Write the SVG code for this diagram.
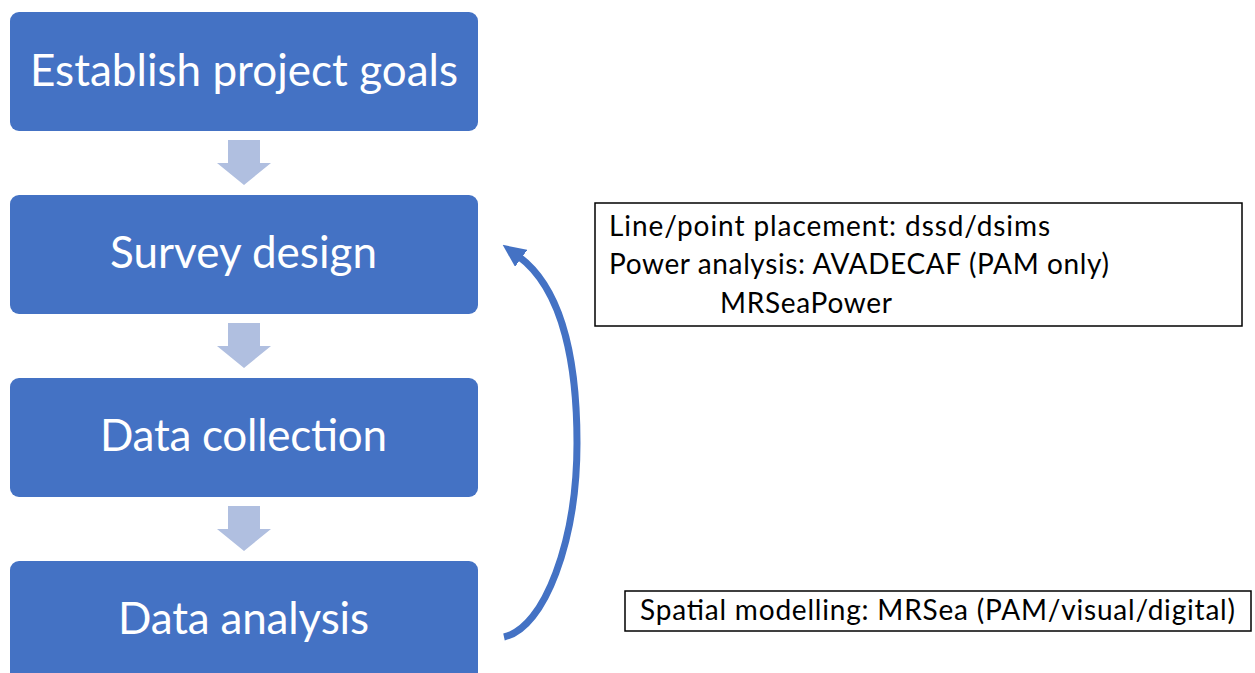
<svg xmlns="http://www.w3.org/2000/svg" width="1255" height="673" viewBox="0 0 1255 673">
  <style>
    .step { fill: #4472C4; }
    .step-label { fill: #ffffff; font-family: Lato, "Open Sans", sans-serif; font-size: 44px; }
    .down { fill: #B0BFE0; }
    .note { fill: #ffffff; stroke: #000000; stroke-width: 1.5; }
    .note-text { fill: #000000; font-family: Lato, "Open Sans", sans-serif; font-size: 28px; }
    .loop { fill: none; stroke: #4472C4; stroke-width: 7; }
  </style>
  <defs>
    <marker id="loopHead" viewBox="0 0 23 21" refX="4" refY="10.5" markerWidth="23" markerHeight="21" orient="auto" markerUnits="userSpaceOnUse">
      <path d="M0,0 L23,10.5 L0,21 z" fill="#4472C4"/>
    </marker>
  </defs>

  <rect width="1255" height="673" fill="#ffffff"/>

  <g id="step-goals">
    <rect class="step" x="10" y="12" width="468" height="119" rx="9"/>
    <text class="step-label" x="30" y="86" textLength="428">Establish project goals</text>
  </g>
  <g id="step-design">
    <rect class="step" x="10" y="195" width="468" height="119" rx="9"/>
    <text class="step-label" x="110" y="268" textLength="267">Survey design</text>
  </g>
  <g id="step-collection">
    <rect class="step" x="10" y="378" width="468" height="119" rx="9"/>
    <text class="step-label" x="100" y="451" textLength="287">Data collection</text>
  </g>
  <g id="step-analysis">
    <rect class="step" x="10" y="561" width="468" height="130" rx="9"/>
    <text class="step-label" x="118" y="634" textLength="251">Data analysis</text>
  </g>

  <g id="note-design">
    <rect class="note" x="595" y="203" width="647" height="123"/>
    <text class="note-text" x="609" y="236" textLength="441">Line/point placement: dssd/dsims</text>
    <text class="note-text" x="609" y="274" textLength="500">Power analysis: AVADECAF (PAM only)</text>
    <text class="note-text" x="720" y="313" textLength="172">MRSeaPower</text>
  </g>
  <g id="note-analysis">
    <rect class="note" x="625" y="591" width="626" height="40"/>
    <text class="note-text" x="640" y="620" textLength="595">Spatial modelling: MRSea (PAM/visual/digital)</text>
  </g>

  <g id="connectors">
    <path class="down" d="M228,140 H260 V163 H271 L244,185 L217,163 H228 Z"/>
    <path class="down" d="M228,323 H260 V346 H271 L244,368 L217,346 H228 Z"/>
    <path class="down" d="M228,506 H260 V529 H271 L244,551 L217,529 H228 Z"/>
    <path class="loop" marker-end="url(#loopHead)" d="M504,637 C545,628 577,540 577,443 C577,370 565,290 518,256"/>
  </g>
</svg>
